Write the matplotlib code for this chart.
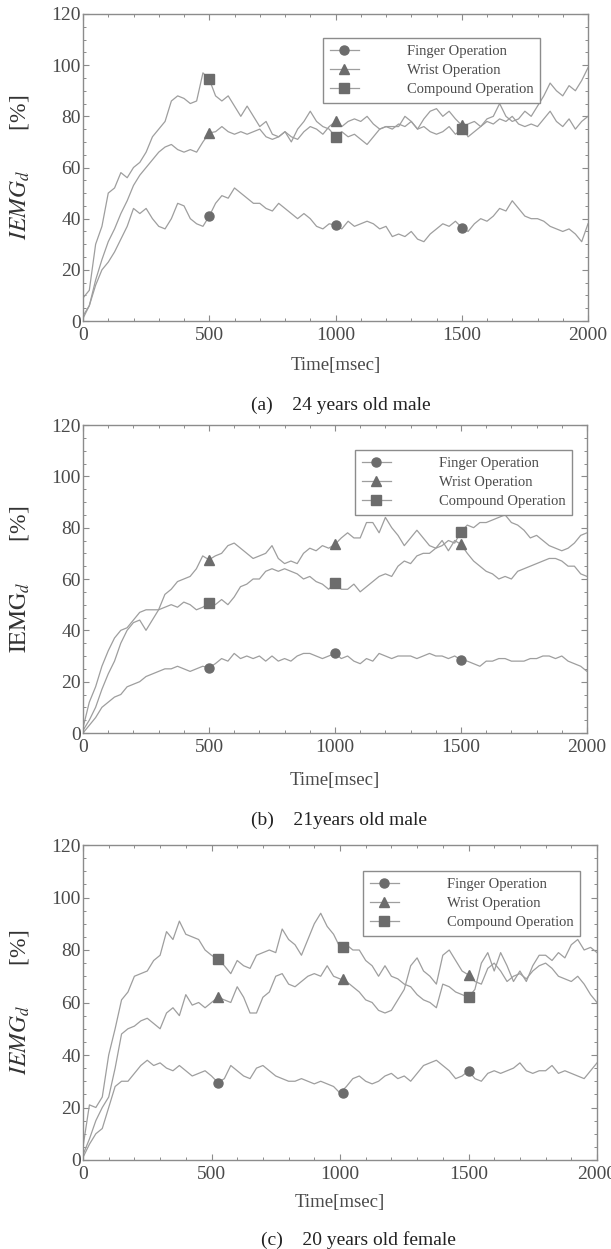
import numpy as np
import matplotlib
matplotlib.use("Agg")
import matplotlib.pyplot as plt
from matplotlib.lines import Line2D
from matplotlib.ticker import MultipleLocator

plt.rcParams['font.family'] = ['Liberation Serif', 'DejaVu Serif']
plt.rcParams['mathtext.fontset'] = 'stix'

# Figure size in pixels
W, H = 611, 1249

# Time axis (msec), one sample every 25 msec
t = np.arange(0, 2001, 25)

labels = ["Finger Operation", "Wrist Operation", "Compound Operation"]

# (a) 24 years old male
finger_a = [1, 6, 14, 20, 23, 27, 32, 37, 44, 42,
            44, 40, 37, 36, 40, 46, 45, 40, 38, 37,
            41, 46, 49, 48, 52, 50, 48, 46, 46, 44,
            43, 46, 44, 42, 40, 42, 40, 37, 36, 38,
            37.5, 36, 39, 37, 38, 39, 38, 36, 37, 33,
            34, 33, 35, 32, 31, 34, 36, 38, 37, 39,
            36.5, 35, 38, 40, 39, 41, 44, 43, 47, 44,
            41, 40, 40, 39, 37, 36, 35, 36, 34, 31,
            38]
wrist_a = [2, 6, 16, 24, 31, 36, 42, 47, 53, 57,
           60, 63, 66, 68, 69, 67, 66, 67, 66, 70,
           73.5, 74, 76, 74, 73, 74, 73, 74, 75, 72,
           71, 72, 74, 72, 71, 74, 76, 75, 73, 76,
           78, 76, 78, 79, 78, 80, 77, 75, 76, 75,
           77, 76, 78, 75, 79, 82, 83, 80, 82, 79,
           76.5, 72, 74, 76, 78, 77, 79, 78, 80, 77,
           76, 77, 76, 79, 82, 78, 76, 79, 75, 78,
           80]
compound_a = [9, 12, 30, 37, 50, 52, 58, 56, 60, 62,
              66, 72, 75, 78, 86, 88, 87, 85, 86, 97,
              94.5, 88, 86, 88, 84, 80, 84, 80, 76, 78,
              73, 72, 74, 70, 75, 78, 82, 78, 76, 75,
              72, 74, 72, 73, 71, 69, 72, 75, 76, 76,
              76, 80, 78, 75, 76, 74, 73, 74, 76, 73,
              75, 77, 78, 76, 79, 80, 85, 80, 78, 79,
              82, 80, 84, 88, 93, 90, 88, 92, 90, 94,
              99]

# (b) 21 years old male
finger_b = [0, 3, 6, 10, 12, 14, 15, 18, 19, 20,
            22, 23, 24, 25, 25, 26, 25, 24, 25, 26,
            25.5, 27, 29, 28, 31, 29, 30, 29, 30, 28,
            30, 28, 29, 28, 30, 31, 31, 30, 29, 30,
            31, 29, 30, 28, 27, 29, 28, 31, 30, 29,
            30, 30, 30, 29, 30, 31, 30, 30, 29, 30,
            28.5, 28, 27, 26, 28, 28, 29, 29, 28, 28,
            28, 29, 29, 30, 30, 29, 30, 28, 27, 26,
            24]
wrist_b = [1, 5, 10, 17, 23, 28, 35, 40, 43, 44,
           40, 44, 48, 54, 56, 59, 60, 61, 64, 69,
           67.5, 69, 70, 73, 74, 72, 70, 68, 69, 70,
           73, 68, 66, 67, 66, 70, 72, 71, 73, 72,
           73.5, 76, 78, 76, 76, 82, 82, 78, 84, 80,
           77, 73, 76, 79, 76, 73, 72, 75, 71, 75,
           73.5, 70, 67, 65, 63, 62, 60, 61, 60, 63,
           64, 65, 66, 67, 68, 68, 67, 65, 65, 62,
           61]
compound_b = [2, 12, 18, 26, 32, 37, 40, 41, 44, 47,
              48, 48, 48, 49, 50, 49, 51, 50, 48, 49,
              50.5, 50, 52, 50, 53, 57, 58, 60, 60, 63,
              64, 63, 64, 63, 62, 60, 61, 59, 58, 56,
              58.5, 56, 56, 58, 55, 57, 59, 61, 62, 61,
              65, 67, 66, 69, 70, 70, 72, 73, 75, 74,
              78.5, 81, 80, 82, 82, 83, 84, 85, 82, 81,
              79, 76, 77, 75, 73, 72, 71, 72, 74, 77,
              78]

# (c) 20 years old female
finger_c = [1, 6, 10, 12, 20, 28, 30, 30, 33, 36,
            38, 36, 37, 35, 34, 36, 34, 32, 33, 34,
            32, 29.5, 31, 36, 34, 32, 31, 35, 36, 34,
            32, 31, 30, 30, 31, 30, 29, 30, 29, 28,
            25.5, 28, 31, 32, 30, 29, 30, 32, 33, 31,
            32, 30, 33, 36, 37, 38, 36, 34, 31, 32,
            34, 31, 30, 33, 34, 33, 34, 35, 37, 34,
            33, 34, 34, 36, 33, 34, 33, 32, 31, 34,
            37]
wrist_c = [2, 8, 15, 20, 24, 35, 48, 50, 51, 53,
           54, 52, 50, 56, 58, 55, 63, 59, 60, 58,
           60, 62, 61, 60, 66, 62, 56, 56, 62, 64,
           70, 71, 67, 66, 68, 70, 71, 70, 74, 70,
           69, 68, 66, 64, 61, 60, 57, 56, 57, 61,
           65, 74, 77, 72, 70, 67, 78, 80, 76, 72,
           70.5, 68, 67, 73, 75, 72, 68, 70, 71, 69,
           72, 74, 75, 73, 70, 69, 68, 70, 67, 63,
           60]
compound_c = [5, 21, 20, 24, 40, 50, 61, 64, 70, 71,
              72, 76, 78, 87, 84, 91, 86, 85, 84, 80,
              78, 76.5, 74, 71, 76, 74, 73, 78, 79, 80,
              79, 88, 84, 82, 78, 84, 90, 94, 89, 86,
              81, 82, 80, 80, 76, 74, 70, 74, 70, 69,
              67, 66, 63, 61, 60, 58, 67, 66, 64, 63,
              62, 65, 75, 79, 72, 79, 74, 68, 72, 68,
              74, 78, 78, 76, 79, 77, 82, 84, 80, 81,
              79]

# marker positions
mark_t_ab = [500, 1000, 1500]
mark_t_c = [525, 1010, 1500]
marks_a = [[41, 37.5, 36.5], [73.5, 78, 76.5], [94.5, 72, 75]]
marks_b = [[25.5, 31, 28.5], [67.5, 73.5, 73.5], [50.5, 58.5, 78.5]]
marks_c = [[29.5, 25.5, 34], [62, 69, 70.5], [76.5, 81, 62]]

captions = ["(a)    24 years old male", "(b)    21years old male", "(c)    20 years old female"]
ylabels = [r"$IEMG_d$" + "       [%]", r"$\mathrm{IEMG}_d$" + "       [%]", r"$IEMG_d$" + "       [%]"]

LINE = "#9e9e9e"
MARK = "#6c6c6c"
SPINE = "#8c8c8c"
TXT = "#4a4a4a"
markers = ["o", "^", "s"]


def fx(px):
    return px / W


def fy(py):
    return 1 - py / H


fig = plt.figure(figsize=(W / 100, H / 100), dpi=100)

# pixel boxes: left, top, right, bottom
boxes = [(83, 14, 588, 321), (83, 425, 587, 733), (83, 845, 597, 1160)]
legend_at = [(323, 38), (355, 450), (363, 871)]
xlabel_y = [366, 780, 1202]
caption_pos = [(251, 405), (251, 820), (261, 1240)]

panels = [
    ([finger_a, wrist_a, compound_a], mark_t_ab, marks_a),
    ([finger_b, wrist_b, compound_b], mark_t_ab, marks_b),
    ([finger_c, wrist_c, compound_c], mark_t_c, marks_c),
]

for i, (series, mt, marks) in enumerate(panels):
    l, tp, r, b = boxes[i]
    ax = fig.add_axes([fx(l), fy(b), fx(r - l), (b - tp) / H])
    for s, mk, mv in zip(series, markers, marks):
        ax.plot(t, s, color=LINE, lw=0.9)
        ax.plot(mt, mv, linestyle="none", marker=mk, color=MARK, ms=6.5)
    ax.set_xlim(0, 2000)
    ax.set_ylim(0, 120)
    ax.xaxis.set_major_locator(MultipleLocator(500))
    ax.xaxis.set_minor_locator(MultipleLocator(100))
    ax.yaxis.set_major_locator(MultipleLocator(20))
    ax.yaxis.set_minor_locator(MultipleLocator(5))
    ax.tick_params(which="both", direction="in", top=True, right=True,
                   color=SPINE, labelcolor=TXT, labelsize=14)
    ax.tick_params(which="major", length=4, width=0.8)
    ax.tick_params(which="minor", length=2.2, width=0.7)
    ax.tick_params(axis="x", pad=4)
    ax.tick_params(axis="y", pad=1.5)
    for sp in ax.spines.values():
        sp.set_color(SPINE)
        sp.set_linewidth(1.0)

    handles = [Line2D([0], [0], color=LINE, lw=0.9, marker=mk,
                      markerfacecolor=MARK, markeredgecolor=MARK, ms=6.5)
               for mk in markers]
    lx, ly = legend_at[i]
    leg = ax.legend(handles, labels, loc="upper left",
                    bbox_to_anchor=(fx(lx), fy(ly)), bbox_transform=fig.transFigure,
                    borderaxespad=0, fontsize=10.5, handlelength=2.0,
                    handletextpad=3.3, labelspacing=0.42, borderpad=0.45,
                    fancybox=False, framealpha=1)
    leg.get_frame().set_edgecolor(SPINE)
    leg.get_frame().set_linewidth(1.0)
    for txt in leg.get_texts():
        txt.set_color(TXT)

    fig.text(fx((l + r) / 2), fy(xlabel_y[i]), "Time[msec]", ha="center", va="center",
             fontsize=13.5, color=TXT)
    fig.text(fx(20), fy((tp + b) / 2), ylabels[i], rotation=90, ha="center", va="center",
             fontsize=17, color="#333333")
    cx, cy = caption_pos[i]
    fig.text(fx(cx), fy(cy), captions[i], ha="left", va="center", fontsize=14, color="#222222")

fig.savefig("out.png", dpi=100)
